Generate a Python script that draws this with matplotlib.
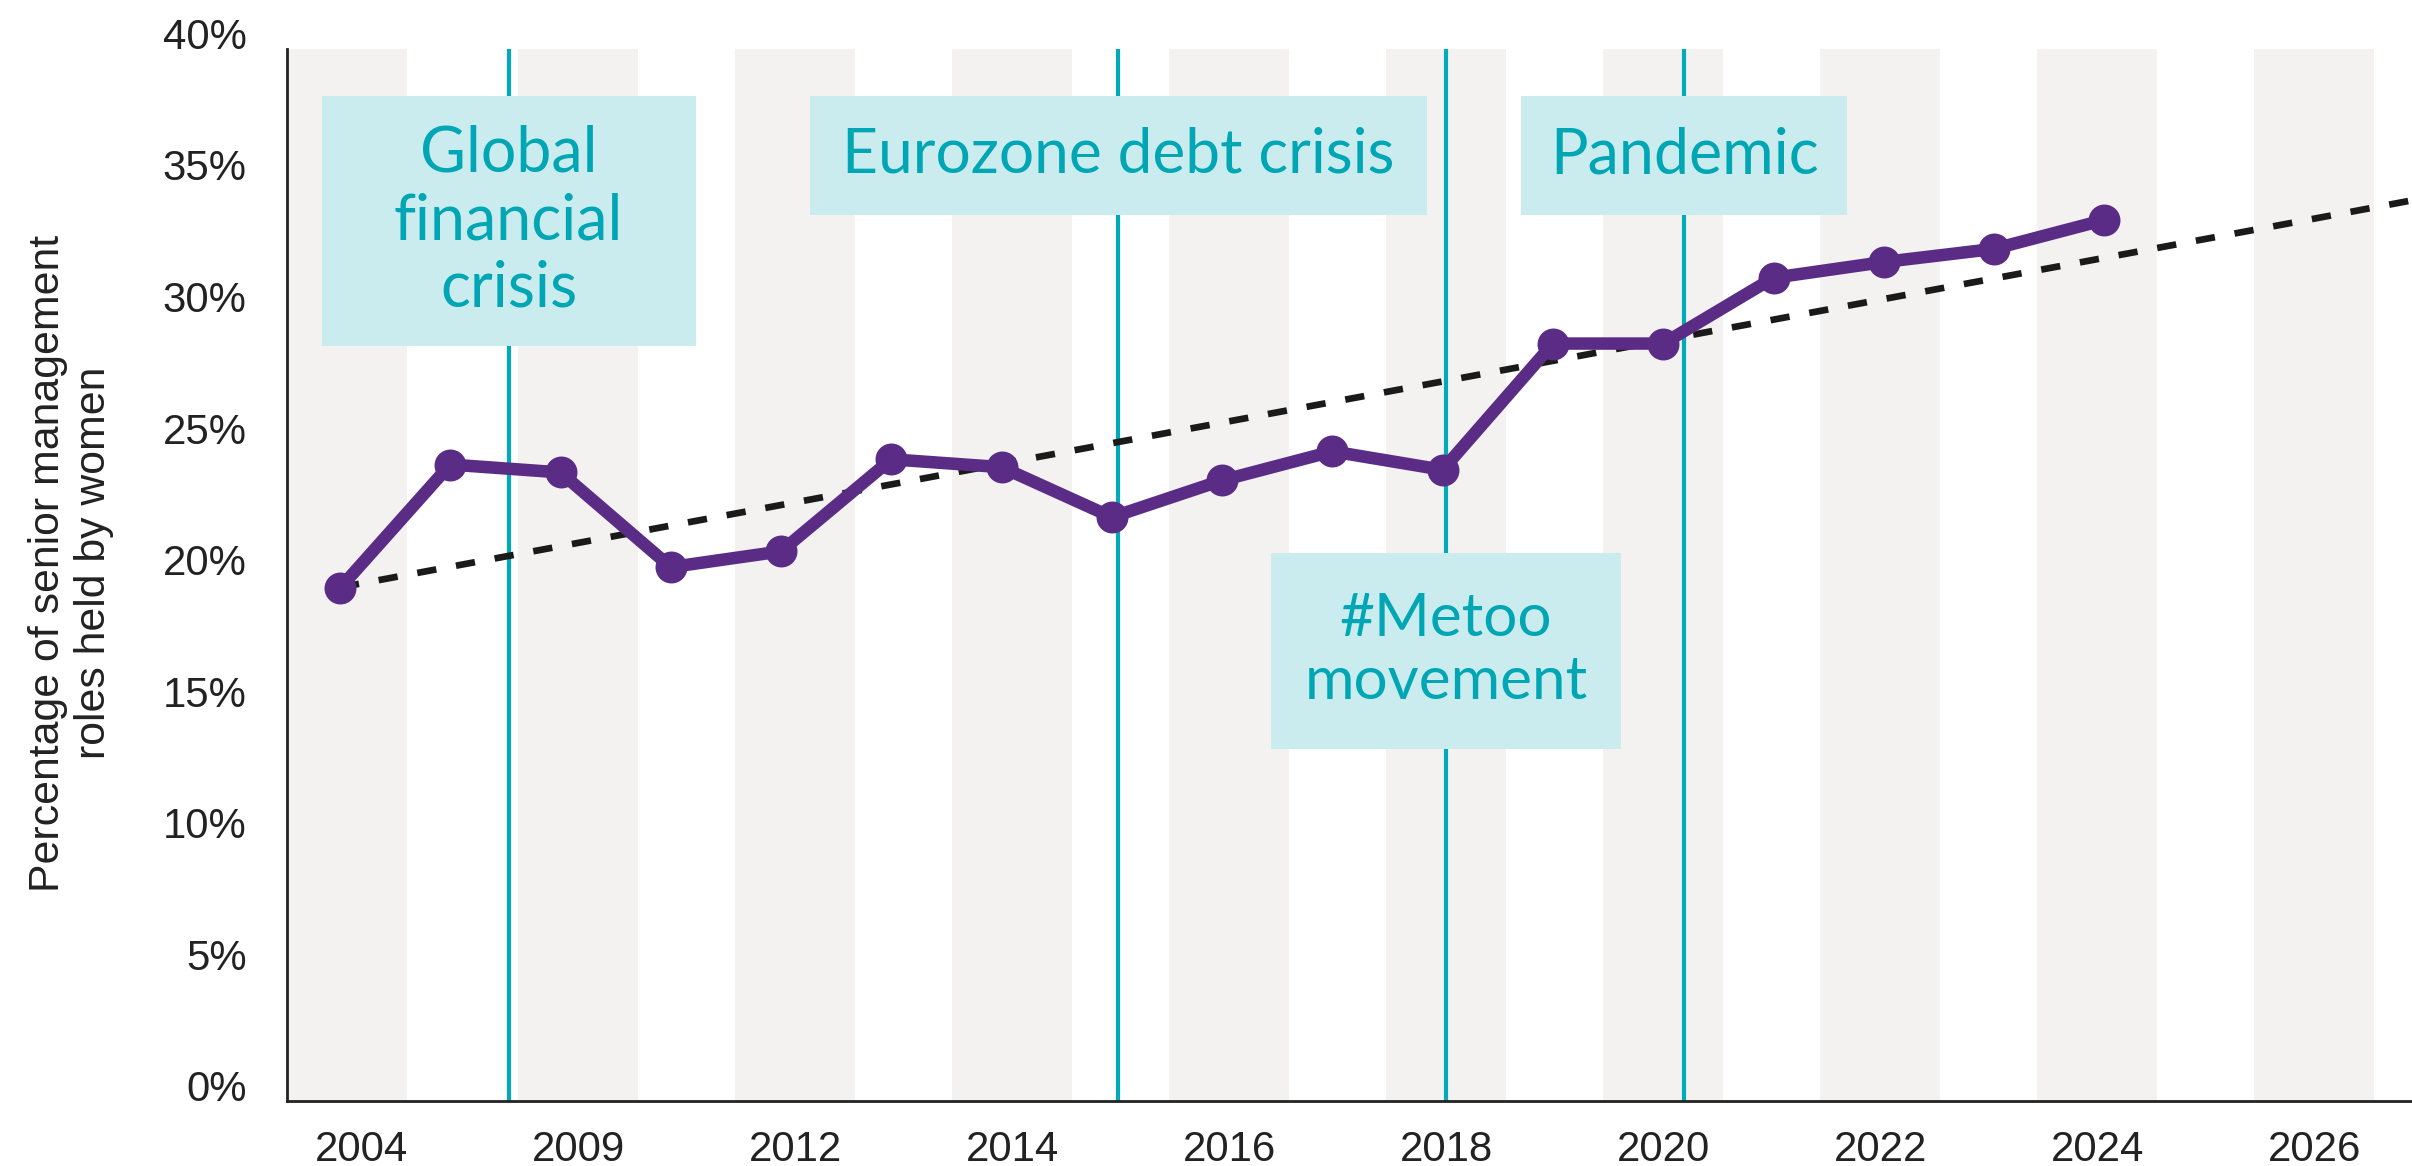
import matplotlib.pyplot as plt
from matplotlib.patches import Rectangle
import numpy as np

#Data
years = [2004, 2007, 2009, 2011, 2012, 2013, 2014, 2015, 2016, 2017,
         2018, 2019, 2020, 2021, 2022, 2023, 2024]
share = [19.5, 24.2, 23.9, 20.3, 20.9, 24.4, 24.1, 22.2, 23.6, 24.7,
         24.0, 28.8, 28.8, 31.3, 31.9, 32.4, 33.5]
tick_years = ['2004', '2009', '2012', '2014', '2016', '2018', '2020', '2022', '2024', '2026']
y_ticks = [0, 5, 10, 15, 20, 25, 30, 35, 40]

events = ['Global\nfinancial\ncrisis', 'Eurozone debt crisis', '#Metoo\nmovement', 'Pandemic']
event_pos = [1.53, 7.06, 10.03, 12.19]

#Colours
purple = '#5B2C86'
teal_line = '#00AAB8'
teal_text = '#00A6B4'
box_col = '#CBECEE'
stripe_col = '#F3F2F0'
ink = '#222222'

x = np.arange(len(years))

fig = plt.figure(figsize=(12.06, 5.83), dpi=200)
ax = fig.add_axes([0.119, 0.0557, 0.881, 0.9023])
xlim = (-0.48, 18.79)
ax.set_xlim(*xlim)
ax.set_ylim(0, 40)

#Background stripes, one per labelled year (first one starts at the axis)
centers = 12 + (np.arange(len(tick_years)) - 6) * 1.968
for i, c in enumerate(centers):
    left, right = c - 0.545, c + 0.545
    if i == 0:
        left, right = xlim[0], c + 0.42
    ax.axvspan(left, right, color=stripe_col, lw=0, zorder=0)

#Event lines and boxes
box_w = [3.39, 5.59, 3.18, 2.96]
box_y = [(28.7, 38.2), (33.7, 38.2), (13.4, 20.85), (33.7, 38.2)]
box_fs = [22.6, 22.4, 21.7, 22.6]
for label, p, w, (y0, y1), fs in zip(events, event_pos, box_w, box_y, box_fs):
    ax.axvline(p, color=teal_line, lw=1.5, zorder=2)
    ax.add_patch(Rectangle((p - w / 2, y0), w, y1 - y0, facecolor=box_col,
                           edgecolor='none', zorder=3))
    ax.text(p, (y0 + y1) / 2, label, ha='center', va='center', multialignment='center',
            fontsize=fs, family='Lato', color=teal_text, linespacing=1.2, zorder=4)

#Trend line (least squares fit of the series)
coef = np.polyfit(x, share, 1)
tx = np.array([0, xlim[1]])
ax.plot(tx, np.polyval(coef, tx), color='#1a1a1a', lw=2.4, dashes=(2.9, 3.0), zorder=5)

#Series
ax.plot(x, share, '-o', color=purple, lw=4.5, markersize=10.5, zorder=6)

#Axes styling
for s in ['top', 'right']:
    ax.spines[s].set_visible(False)
for s in ['left', 'bottom']:
    ax.spines[s].set_color(ink)
    ax.spines[s].set_linewidth(1.0)

ax.set_xticks(centers, tick_years)
ax.set_yticks(y_ticks, [f'{v}%' for v in y_ticks])
ax.tick_params(axis='both', length=0, labelsize=15.1, labelcolor=ink)
ax.tick_params(axis='x', pad=10.5)
ax.tick_params(axis='y', pad=14.5)
for lbl in ax.get_xticklabels() + ax.get_yticklabels():
    lbl.set_family('Liberation Sans')
for lbl in ax.get_yticklabels():
    lbl.set_va('baseline')

fig.text(0.0296, 0.517, 'Percentage of senior management\nroles held by women',
         rotation=90, ha='center', va='center', multialignment='center',
         fontsize=15.4, family='Liberation Sans', color=ink)

fig.savefig('out.png', dpi=200)
